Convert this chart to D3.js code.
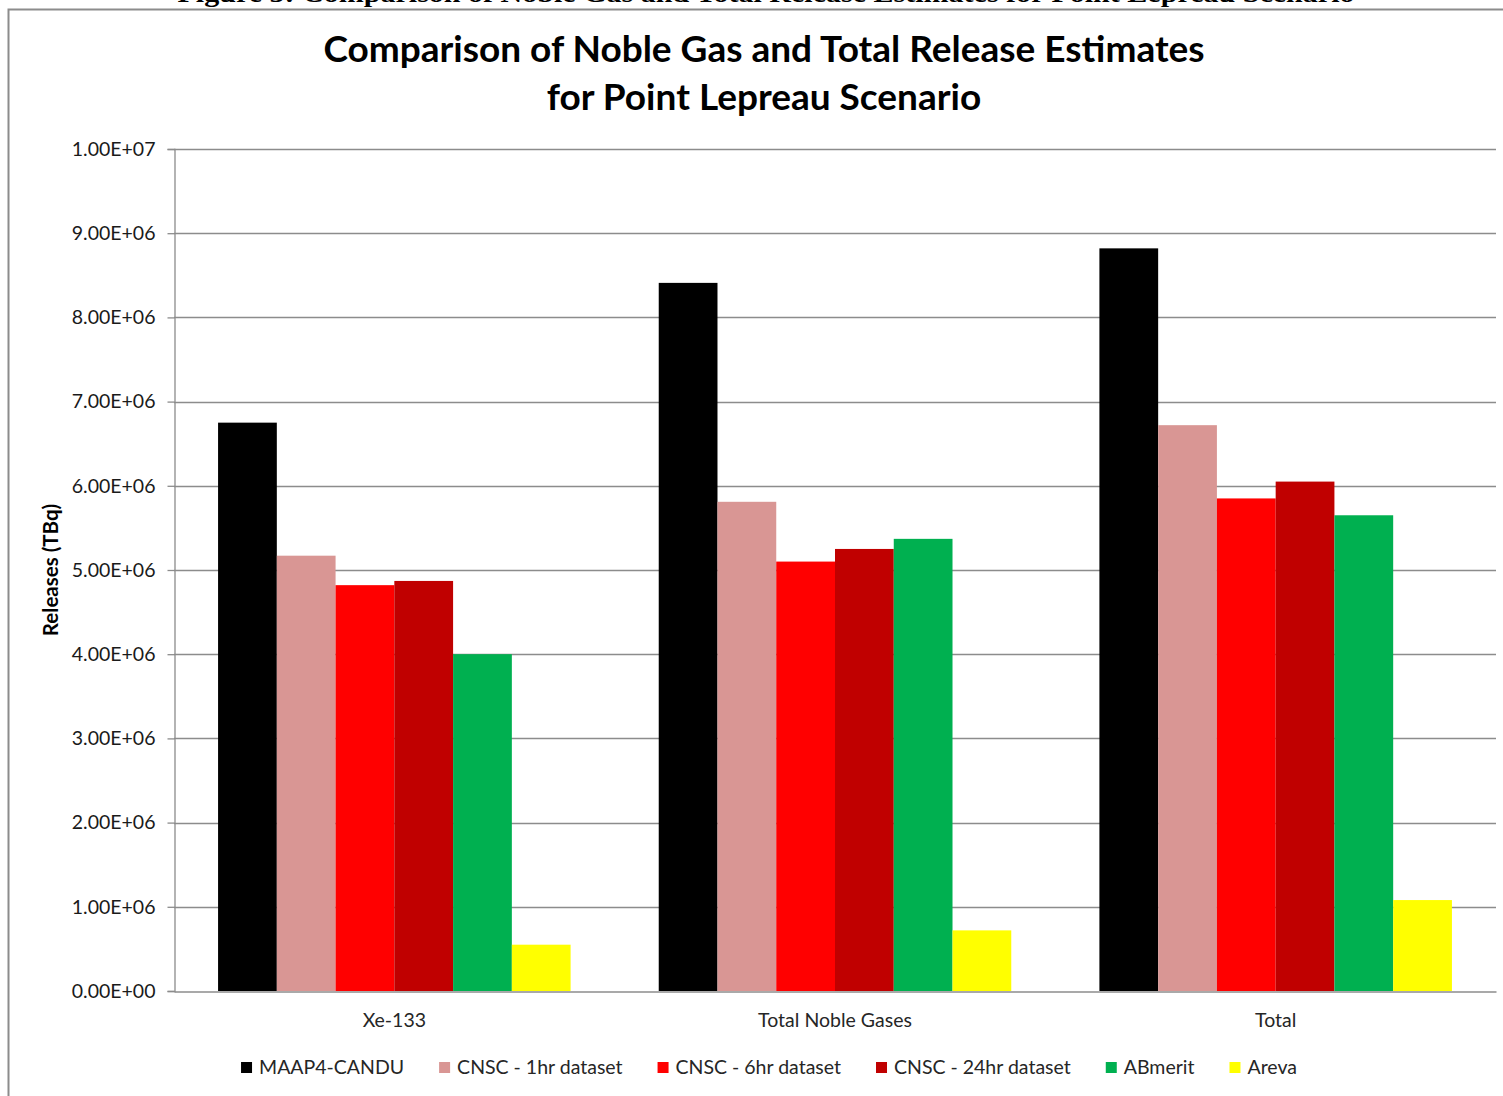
<!DOCTYPE html>
<html>
<head>
<meta charset="utf-8">
<script src="https://cdn.jsdelivr.net/npm/d3@7"></script>
<style>
  html, body { margin: 0; padding: 0; background: #ffffff; }
  svg { display: block; }
</style>
</head>
<body>
<svg id="chart" width="1503" height="1096"></svg>
<script>
// Release estimates (TBq) per category and model/dataset
const categories = ["Xe-133", "Total Noble Gases", "Total"];
const seriesNames = ["MAAP4-CANDU", "CNSC - 1hr dataset", "CNSC - 6hr dataset", "CNSC - 24hr dataset", "ABmerit", "Areva"];
const maap4Candu  = [6.75e6, 8.41e6, 8.82e6];
const cnsc1hr     = [5.17e6, 5.81e6, 6.72e6];
const cnsc6hr     = [4.82e6, 5.10e6, 5.85e6];
const cnsc24hr    = [4.87e6, 5.25e6, 6.05e6];
const abmerit     = [4.00e6, 5.37e6, 5.65e6];
const areva       = [0.55e6, 0.72e6, 1.08e6];
const seriesColors = ["#000000", "#D99694", "#FF0000", "#C00000", "#00B050", "#FFFF00"];
const yTicks = [0, 1e6, 2e6, 3e6, 4e6, 5e6, 6e6, 7e6, 8e6, 9e6, 1e7];

const seriesValues = [maap4Candu, cnsc1hr, cnsc6hr, cnsc24hr, abmerit, areva];

const svg = d3.select("#chart");
const W = 1503, H = 1096;
const plot = { left: 174, right: 1496, top: 149, bottom: 991 };
const font = "Lato, 'Noto Sans', sans-serif";

// Document caption sitting above the chart frame (cut at the page edge)
svg.append("text")
  .attr("x", 766).attr("y", 2)
  .attr("text-anchor", "middle")
  .attr("font-family", "'Liberation Serif', 'DejaVu Serif', serif")
  .attr("font-weight", "bold")
  .attr("font-size", 26)
  .attr("textLength", 1177)
  .attr("lengthAdjust", "spacingAndGlyphs")
  .text("Figure 5: Comparison of Noble Gas and Total Release Estimates for Point Lepreau Scenario");

// Chart frame
svg.append("rect")
  .attr("x", 8.5).attr("y", 9.5)
  .attr("width", W + 10).attr("height", H + 10)
  .attr("fill", "#ffffff")
  .attr("stroke", "#8c8c8c")
  .attr("stroke-width", 2);

// Scales
const x0 = d3.scaleBand().domain(categories).range([plot.left, plot.right]).padding(0);
const x1 = d3.scaleBand().domain(seriesNames)
  .range([x0.bandwidth() * 0.1, x0.bandwidth() * 0.9]).padding(0);
const y = d3.scaleLinear().domain([0, 1e7]).range([plot.bottom, plot.top]);

// Gridlines
svg.append("g")
  .selectAll("line")
  .data(yTicks.filter(d => d > 0))
  .join("line")
  .attr("x1", plot.left).attr("x2", plot.right)
  .attr("y1", d => Math.round(y(d)) + 0.5).attr("y2", d => Math.round(y(d)) + 0.5)
  .attr("stroke", "#8c8c8c").attr("stroke-width", 1.3);

// Bars
const groups = svg.append("g")
  .selectAll("g")
  .data(categories)
  .join("g")
  .attr("transform", d => `translate(${x0(d)},0)`);

groups.selectAll("rect")
  .data((cat, ci) => seriesNames.map((s, si) => ({ series: s, value: seriesValues[si][ci], color: seriesColors[si] })))
  .join("rect")
  .attr("x", d => x1(d.series))
  .attr("width", x1.bandwidth())
  .attr("y", d => y(d.value))
  .attr("height", d => y(0) - y(d.value))
  .attr("fill", d => d.color);

// Y axis
const fmt = v => {
  const s = v.toExponential(2).toUpperCase();
  return s.replace(/E([+-])(\d)$/, "E$10$2");
};
const yAxis = svg.append("g")
  .attr("transform", `translate(${plot.left + 0.5},0)`)
  .call(d3.axisLeft(y).tickValues(yTicks).tickFormat(fmt).tickSize(7).tickPadding(12));
yAxis.select(".domain").attr("stroke", "#8c8c8c").attr("stroke-width", 1.3);
yAxis.selectAll(".tick line").attr("stroke", "#8c8c8c").attr("stroke-width", 1.3);
yAxis.selectAll(".tick text")
  .attr("font-family", font).attr("font-size", 19.5).attr("fill", "#1a1a1a");

// X axis baseline and category labels
const xAxis = svg.append("g")
  .attr("transform", `translate(0,${plot.bottom + 0.5})`)
  .call(d3.axisBottom(x0).tickSize(0).tickPadding(22));
xAxis.select(".domain").attr("stroke", "#8c8c8c").attr("stroke-width", 1.3);
xAxis.selectAll(".tick text")
  .attr("font-family", font).attr("font-size", 19.5).attr("fill", "#262626");

// Y axis title
svg.append("text")
  .attr("transform", "translate(58,570) rotate(-90)")
  .attr("text-anchor", "middle")
  .attr("font-family", font).attr("font-weight", "bold").attr("font-size", 20.5)
  .attr("fill", "#000")
  .text("Releases (TBq)");

// Chart title
const title = svg.append("text")
  .attr("text-anchor", "middle")
  .attr("font-family", font).attr("font-weight", "bold").attr("font-size", 37)
  .attr("fill", "#000");
title.append("tspan").attr("x", 764).attr("y", 62).text("Comparison of Noble Gas and Total Release Estimates");
title.append("tspan").attr("x", 764).attr("y", 110).text("for Point Lepreau Scenario");

// Legend
const legend = svg.append("g");
const items = legend.selectAll("g").data(seriesNames).join("g");
items.append("rect")
  .attr("width", 11).attr("height", 11).attr("y", -12)
  .attr("fill", (d, i) => seriesColors[i]);
items.append("text")
  .attr("x", 18).attr("y", 0)
  .attr("font-family", font).attr("font-size", 19.5).attr("fill", "#262626")
  .text(d => d);
let cursor = 0;
items.each(function () {
  const g = d3.select(this);
  g.attr("transform", `translate(${cursor},1074)`);
  cursor += 18 + g.select("text").node().getComputedTextLength() + 35;
});
const legendWidth = cursor - 35;
legend.attr("transform", `translate(${769 - legendWidth / 2},0)`);
</script>
</body>
</html>
